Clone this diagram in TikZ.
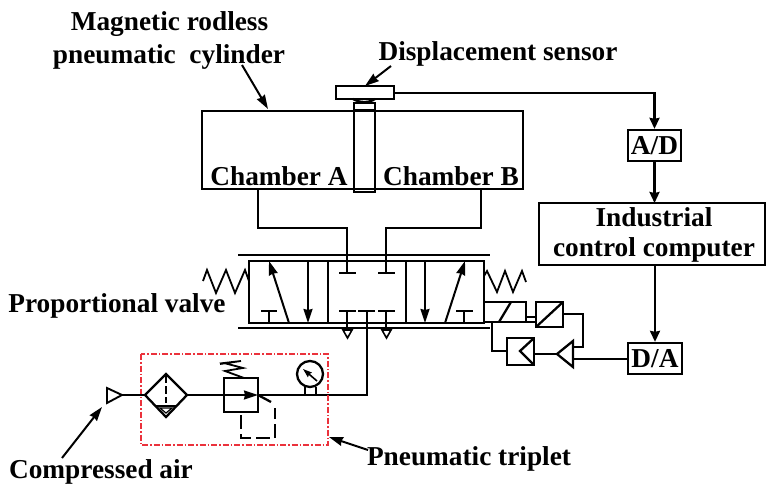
\documentclass[tikz,border=0pt]{standalone}
\usepackage{fontspec}
\setmainfont{Liberation Serif}
\usetikzlibrary{arrows.meta}
\tikzset{
 x=1pt,y=-1pt,
 ln/.style={draw=black,line width=2.3pt,line join=miter},
 thin ln/.style={draw=black,line width=1.8pt},
 arr/.style={ln,-{Stealth[length=11pt,width=10pt,inset=1pt]}},
 small arr/.style={draw=black,line width=2pt,-{Stealth[length=14pt,width=9pt,inset=1pt]}},
 lab/.style={font=\fontsize{27.3}{30}\selectfont\bfseries,inner sep=0pt,align=center,text=black},
 box/.style={ln,fill=white,inner sep=0pt},
 redbox/.style={draw={rgb,255:red,235;green,50;blue,60},line width=1.3pt,dash pattern=on 6pt off 2pt on 1.5pt off 2pt},
 tri/.style={draw=black,line width=1.6pt}
}
\begin{document}
\begin{tikzpicture}
\useasboundingbox (0,0) rectangle (766,484);
% text
\node[lab] (t1) at (169.5,24) {Magnetic rodless};
\node[lab] (t2) at (169,57) {pneumatic\ \ cylinder};
\node[lab] (t3) at (498,54) {Displacement sensor};
\node[lab] (t4) at (117,306) {Proportional valve};
\node[lab] (t5) at (101,472) {Compressed air};
\node[lab] (t6) at (469,459) {Pneumatic triplet};
% cylinder
\draw[ln] (202,111) rectangle (523,189);
\draw[ln] (354,103) rectangle (375,192);
\draw[ln] (354,110) -- (375,110);
\draw[ln] (336,86) rectangle (394,99);
\draw[ln] (353,99) .. controls (360,103) and (369,103) .. (375,99);
\node[lab] (ca) at (279,176) {Chamber A};
\node[lab] (cb) at (451,176) {Chamber B};
% boxes
\node[box,minimum width=53pt,minimum height=31pt,lab] (ad) at (654.5,145.5) {A/D};
\node[box,minimum width=226pt,minimum height=62pt] (pc) at (652,234) {};
\node[lab] at (654,217) {Industrial};
\node[lab] at (654,250) {control computer};
\node[box,minimum width=54pt,minimum height=31pt,lab] (da) at (655,358.5) {D/A};
\coordinate (sr) at (394,93);
\draw[arr] (sr) -- (654.5,93) -- (ad.north);
\coordinate (pct) at (654.5,203);
\draw[arr] (ad.south) -- (pct);
\coordinate (pcb) at (655,265);
\draw[arr] (pcb) -- (da.north);
% label arrows
\coordinate (a1s) at (242,65); \coordinate (a1e) at (268,109);
\draw[small arr] (a1s) -- (a1e);
\coordinate (a2s) at (391,66); \coordinate (a2e) at (365,86);
\draw[small arr] (a2s) -- (a2e);
\coordinate (a3s) at (62,458); \coordinate (a3e) at (102,407);
\draw[small arr] (a3s) -- (a3e);
\coordinate (a4s) at (368,450); \coordinate (a4e) at (329,437);
\draw[small arr] (a4s) -- (a4e);
% valve
\draw[ln] (238,255) -- (490,255);
\draw[ln] (238,328) -- (490,328);
\draw[ln] (249,261) rectangle (484,323);
\draw[ln] (328,261) -- (328,323);
\draw[ln] (406,261) -- (406,323);
\draw[small arr] (289,323) -- (269,261);
\draw[small arr] (308,261) -- (308,323);
\draw[small arr] (425,261) -- (425,323);
\draw[small arr] (445,323) -- (465,261);
\draw[ln] (261,311) -- (277,311) (269,311) -- (269,323);
\draw[ln] (456,311) -- (473,311) (464,311) -- (464,323);
% centre ports
\draw[ln] (258,189) -- (258,228) -- (347,228) -- (347,273);
\draw[ln] (481,189) -- (481,228) -- (386,228) -- (386,273);
\draw[ln] (339,273) -- (356,273) (378,273) -- (395,273);
\draw[ln] (339,311) -- (356,311) (358,311) -- (375,311) (378,311) -- (395,311);
\draw[ln] (347,311) -- (347,329) (386,311) -- (386,329);
\draw[tri] (343,330) -- (352,330) -- (347.5,338) -- cycle;
\draw[tri] (382,330) -- (391,330) -- (386.5,338) -- cycle;
% springs
\draw[thin ln] (203,281) -- (207,270) -- (216,293) -- (226,270) -- (235,293) -- (245,270) -- (249,281);
\draw[thin ln] (484,276) -- (487,271) -- (497,292) -- (505,271) -- (513,292) -- (522,271) -- (526,282);
% solenoid and feedback
\draw[ln] (484,302) rectangle (526,322);
\draw[ln] (499,322) -- (511,302);
\draw[ln] (536,302) rectangle (563,327);
\draw[ln] (536,327) -- (563,302);
\draw[ln] (526,317) -- (536,317) (526,322) -- (536,322);
\draw[ln] (563,314) -- (583,314) -- (583,347) -- (573,347);
\draw[ln] (573,341) -- (573,367) -- (557,354) -- cycle;
\draw[ln] (557,354) -- (534,354);
\draw[ln] (507,338) rectangle (534,365);
\draw[ln] (533,339) -- (520,351) -- (533,364);
\draw[ln] (507,351) -- (492,351) -- (492,322);
\coordinate (daw) at (628,359);
\draw[ln] (daw) -- (573,359);
% supply
\draw[ln] (367,311) -- (367,395) -- (258,395);
% triplet
\draw[redbox] (141,354) rectangle (328,445);
\draw[tri,line width=1.9pt] (107,388) -- (107,403) -- (122,395) -- cycle;
\draw[ln] (122,395) -- (145,395);
\draw[ln] (145,395) -- (166,374) -- (187,395) -- (166,417) -- cycle;
\draw[ln,dash pattern=on 8pt off 3pt] (166,375) -- (166,403);
\draw[thin ln] (155,406) -- (177,406);
\draw[thin ln,line width=1.2pt] (160,408) -- (172,408) -- (166,413) -- cycle;
\draw[ln] (187,395) -- (224,395);
\draw[ln] (224,378) rectangle (258,412);
\draw[small arr] (224,395) -- (258,395);
\draw[ln] (258,395) -- (271,402);
\draw[ln,dash pattern=on 14pt off 5pt] (241,415) -- (241,438) -- (275,438) -- (275,408);
\draw[thin ln] (244,378) -- (225,371) -- (243,368) -- (224,363) -- (241,361) -- (220,364);
\draw[ln] (310,374) circle (13);
\draw[draw=black,line width=1.6pt,-{Stealth[length=9pt,width=6pt,inset=1pt]}] (317,381) -- (303,369);
\draw[ln] (305,387) -- (305,395) (316,387) -- (316,395);
\end{tikzpicture}
\end{document}
